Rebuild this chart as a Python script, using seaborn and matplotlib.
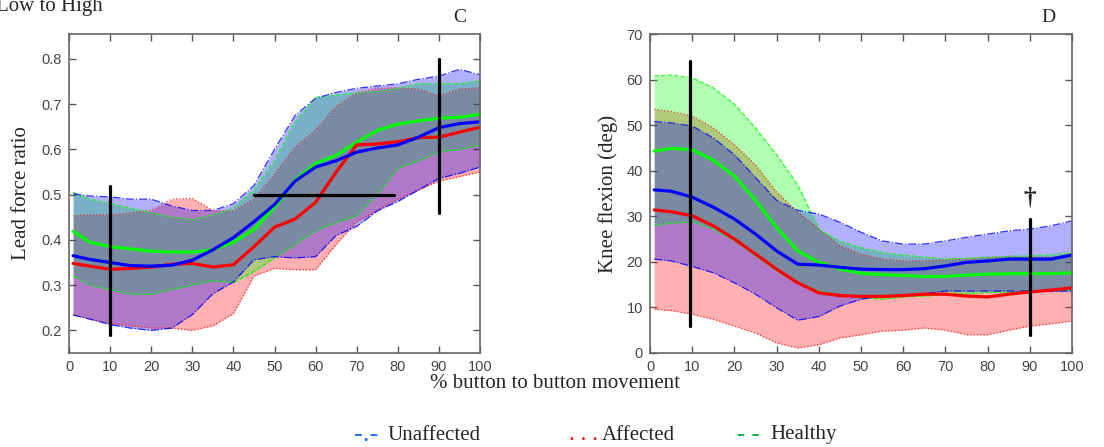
import seaborn as sns
import numpy as np
import pandas as pd
import matplotlib
matplotlib.use('Agg')
import matplotlib.pyplot as plt

# % button to button movement (sample points)
pct = [1, 5, 10, 15, 20, 25, 30, 35, 40, 45, 50, 55, 60, 65, 70, 75, 80, 85, 90, 95, 100]
groups = ['Unaffected', 'Affected', 'Healthy']

# Panel C - lead force ratio
c_unaff_mean = [0.365, 0.357, 0.350, 0.343, 0.342, 0.344, 0.355, 0.378, 0.405, 0.440, 0.478, 0.530, 0.561, 0.575, 0.594, 0.603, 0.610, 0.627, 0.648, 0.657, 0.661]
c_unaff_hi = [0.502, 0.497, 0.495, 0.490, 0.490, 0.475, 0.465, 0.465, 0.480, 0.520, 0.600, 0.675, 0.713, 0.726, 0.735, 0.740, 0.745, 0.755, 0.762, 0.777, 0.765]
c_unaff_lo = [0.234, 0.225, 0.213, 0.205, 0.200, 0.205, 0.235, 0.281, 0.307, 0.356, 0.363, 0.360, 0.363, 0.410, 0.430, 0.464, 0.485, 0.510, 0.536, 0.547, 0.561]
c_aff_mean = [0.348, 0.342, 0.335, 0.337, 0.340, 0.346, 0.348, 0.340, 0.345, 0.385, 0.428, 0.446, 0.483, 0.550, 0.610, 0.612, 0.617, 0.626, 0.627, 0.638, 0.649]
c_aff_hi = [0.453, 0.455, 0.455, 0.460, 0.465, 0.490, 0.492, 0.465, 0.464, 0.490, 0.545, 0.605, 0.643, 0.695, 0.725, 0.735, 0.736, 0.733, 0.718, 0.733, 0.736]
c_aff_lo = [0.235, 0.225, 0.215, 0.210, 0.205, 0.205, 0.200, 0.210, 0.237, 0.320, 0.337, 0.334, 0.334, 0.390, 0.440, 0.465, 0.490, 0.510, 0.530, 0.540, 0.550]
c_heal_mean = [0.419, 0.395, 0.385, 0.380, 0.375, 0.373, 0.373, 0.378, 0.395, 0.423, 0.472, 0.532, 0.569, 0.587, 0.616, 0.642, 0.656, 0.663, 0.669, 0.671, 0.678]
c_heal_hi = [0.505, 0.490, 0.480, 0.470, 0.460, 0.450, 0.445, 0.455, 0.470, 0.510, 0.575, 0.660, 0.715, 0.720, 0.725, 0.728, 0.735, 0.745, 0.745, 0.745, 0.752]
c_heal_lo = [0.320, 0.300, 0.290, 0.280, 0.280, 0.290, 0.300, 0.310, 0.305, 0.330, 0.360, 0.390, 0.420, 0.438, 0.453, 0.500, 0.558, 0.575, 0.594, 0.600, 0.609]

# Panel D - knee flexion (deg)
d_unaff_mean = [35.8, 35.5, 34.2, 32.0, 29.4, 26.1, 22.4, 19.5, 19.3, 18.8, 18.4, 18.3, 18.3, 18.5, 19.1, 19.9, 20.2, 20.6, 20.6, 20.6, 21.5]
d_unaff_hi = [50.8, 50.5, 49.8, 47.2, 43.5, 38.5, 33.5, 31.3, 30.5, 28.7, 26.5, 24.6, 23.9, 23.9, 24.6, 25.4, 26.1, 26.8, 27.2, 27.9, 29.0]
d_unaff_lo = [20.6, 20.2, 19.0, 17.6, 15.4, 12.9, 9.9, 7.2, 8.0, 10.3, 11.8, 12.5, 12.7, 13.0, 13.6, 13.6, 13.6, 13.6, 13.6, 13.5, 13.6]
d_aff_mean = [31.4, 31.0, 30.1, 27.9, 25.0, 21.7, 18.4, 15.4, 13.2, 12.6, 12.4, 12.4, 12.6, 12.9, 12.9, 12.5, 12.3, 12.9, 13.4, 13.8, 14.3]
d_aff_hi = [53.5, 53.0, 52.0, 49.4, 45.7, 41.3, 35.3, 30.9, 27.2, 23.5, 21.7, 20.6, 20.2, 20.2, 20.5, 20.6, 21.0, 21.2, 21.0, 21.0, 21.5]
d_aff_lo = [9.6, 9.3, 8.5, 7.4, 5.9, 4.4, 2.2, 1.1, 1.8, 3.3, 4.0, 4.8, 5.0, 5.5, 5.0, 4.0, 4.0, 5.0, 5.9, 6.4, 7.0]
d_heal_mean = [44.3, 44.9, 44.6, 42.3, 38.8, 33.5, 27.5, 22.4, 19.9, 18.4, 17.5, 17.2, 17.0, 16.8, 16.8, 17.1, 17.3, 17.4, 17.4, 17.4, 17.6]
d_heal_hi = [60.8, 61.0, 60.4, 58.2, 54.6, 49.4, 43.5, 36.9, 27.2, 24.5, 23.1, 22.0, 21.5, 21.0, 20.6, 20.8, 21.0, 21.2, 21.3, 21.5, 22.0]
d_heal_lo = [28.0, 28.5, 28.8, 27.2, 24.6, 21.3, 18.0, 15.4, 13.6, 12.6, 12.1, 11.8, 12.3, 12.5, 12.8, 13.0, 13.3, 13.3, 13.5, 13.6, 13.8]

# black markers drawn on the panels
c_vlines = [(10, 0.19, 0.52), (90, 0.46, 0.80)]
c_hline = (0.50, 45, 79)
d_vlines = [(9.5, 6, 64), (90, 4, 29.5)]

sns.set_style('white')
plt.rcParams['font.family'] = ['Liberation Serif', 'DejaVu Serif']

colors = {'Unaffected': '#0000ff', 'Affected': '#ff0000', 'Healthy': '#00ff00'}
edge_style = {'Unaffected': '-.', 'Affected': ':', 'Healthy': '--'}

fig = plt.figure(figsize=(11.04, 4.47), dpi=100)
axC = fig.add_axes([0.0625, 0.2103, 0.3723, 0.7136])
axD = fig.add_axes([0.5888, 0.2103, 0.3822, 0.7136])


def draw_panel(ax, means, his, los):
    # fills: red, green, blue order gives the grey/purple overlaps
    for g in ['Affected', 'Healthy', 'Unaffected']:
        ax.fill_between(pct, los[g], his[g], color=colors[g], alpha=0.31, lw=0)
    for g in ['Affected', 'Healthy', 'Unaffected']:
        ax.plot(pct, his[g], color=colors[g], ls=edge_style[g], lw=0.9, alpha=0.8)
        ax.plot(pct, los[g], color=colors[g], ls=edge_style[g], lw=0.9, alpha=0.8)
    df = pd.DataFrame({
        'pct': pct * 3,
        'value': means['Unaffected'] + means['Affected'] + means['Healthy'],
        'group': ['Unaffected'] * len(pct) + ['Affected'] * len(pct) + ['Healthy'] * len(pct),
    })
    sns.lineplot(data=df, x='pct', y='value', hue='group', hue_order=['Healthy', 'Affected', 'Unaffected'],
                 palette=colors, lw=2.3, legend=False, ax=ax)
    ax.set_xlim(0, 100)
    ax.set_xticks(range(0, 101, 10))
    ax.set_xlabel('')
    ax.tick_params(direction='in', bottom=True, left=True, top=True, right=True,
                   length=5, width=1, color='#555555',
                   labelsize=10.5, labelcolor='#444444', pad=5)
    for s in ax.spines.values():
        s.set_color('#666666')
        s.set_linewidth(1.2)


draw_panel(axC,
           {'Unaffected': c_unaff_mean, 'Affected': c_aff_mean, 'Healthy': c_heal_mean},
           {'Unaffected': c_unaff_hi, 'Affected': c_aff_hi, 'Healthy': c_heal_hi},
           {'Unaffected': c_unaff_lo, 'Affected': c_aff_lo, 'Healthy': c_heal_lo})
axC.set_ylim(0.15, 0.855)
axC.set_yticks([0.2, 0.3, 0.4, 0.5, 0.6, 0.7, 0.8])
axC.set_yticklabels(['0.2', '0.3', '0.4', '0.5', '0.6', '0.7', '0.8'])
axC.set_ylabel('Lead force ratio', fontsize=15, labelpad=8)
for x, y0, y1 in c_vlines:
    axC.plot([x, x], [y0, y1], color='black', lw=2.3)
axC.plot([c_hline[1], c_hline[2]], [c_hline[0], c_hline[0]], color='black', lw=2.3)

draw_panel(axD,
           {'Unaffected': d_unaff_mean, 'Affected': d_aff_mean, 'Healthy': d_heal_mean},
           {'Unaffected': d_unaff_hi, 'Affected': d_aff_hi, 'Healthy': d_heal_hi},
           {'Unaffected': d_unaff_lo, 'Affected': d_aff_lo, 'Healthy': d_heal_lo})
axD.set_ylim(0, 70)
axD.set_yticks(range(0, 71, 10))
axD.set_ylabel('Knee flexion (deg)', fontsize=15, labelpad=6)
for x, y0, y1 in d_vlines:
    axD.plot([x, x], [y0, y1], color='black', lw=2.3)
axD.text(90, 34, '\u2020', ha='center', va='center', fontsize=18, fontweight='bold')

for lab in axC.get_xticklabels() + axC.get_yticklabels() + axD.get_xticklabels() + axD.get_yticklabels():
    lab.set_family('Liberation Sans')

# titles and labels
fig.text(-0.004, 1 - 11 / 447, 'Low to High', fontsize=15, va='baseline', ha='left')
fig.text(460 / 1104, 1 - 18 / 447, 'C', fontsize=14, va='center', ha='center')
fig.text(1048 / 1104, 1 - 18 / 447, 'D', fontsize=14, va='center', ha='center')
fig.text(555 / 1104, 1 - 383 / 447, '% button to button movement', fontsize=15, ha='center', va='center')

# legend drawn as text, as in the source
ly = 1 - 435 / 447
fig.text(354 / 1104, ly, '-.-', color='#1a6fd6', fontsize=19, va='center')
fig.text(388 / 1104, ly, 'Unaffected', fontsize=15, va='center')
fig.text(569 / 1104, ly, '. . .', color='#ff0000', fontsize=17, va='center')
fig.text(602 / 1104, ly, 'Affected', fontsize=15, va='center')
fig.text(737 / 1104, ly, '- -', color='#00b050', fontsize=18, va='center')
fig.text(770 / 1104, ly, 'Healthy', fontsize=15, va='center')

fig.savefig('out.png', dpi=100)
